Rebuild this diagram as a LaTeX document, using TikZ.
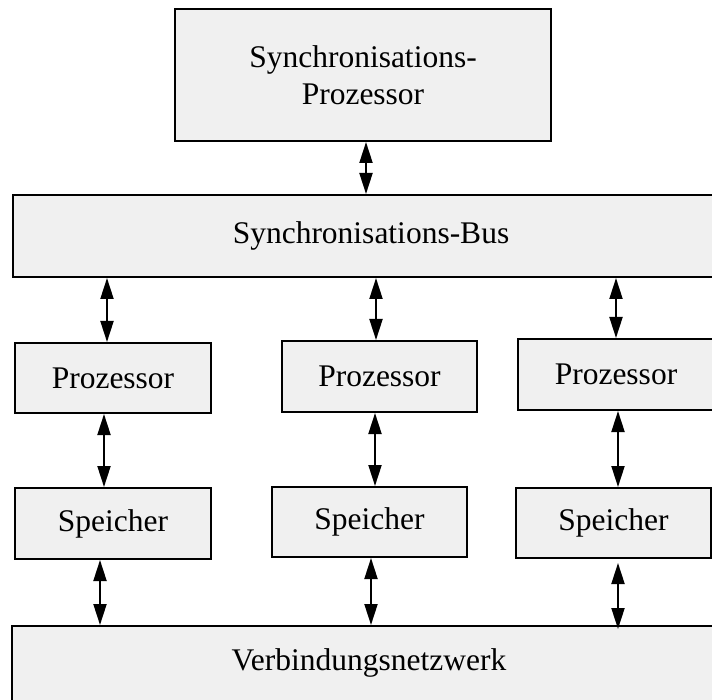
\documentclass[tikz,border=0pt]{standalone}
\usepackage{fontspec}
\setmainfont{Liberation Serif}
\usetikzlibrary{arrows.meta}
\definecolor{boxfill}{RGB}{240,240,240}
\tikzset{
  unit/.style={draw=black, fill=boxfill, line width=2pt, inner sep=0pt,
    font=\fontsize{31.5}{37}\selectfont, align=center},
  link/.style={line width=2pt, {Triangle[length=21pt,width=13pt]}-{Triangle[length=21pt,width=13pt]}}
}
\begin{document}
\begin{tikzpicture}[x=1pt,y=-1pt]
  \useasboundingbox (0,0) rectangle (712,700);
  \clip (0,0) rectangle (712,700);

  % top level: synchronisation processor and bus
  \node[unit, minimum width=376pt, minimum height=132pt] (sp) at (363,75) {Synchronisations-\\Prozessor};
  \node[unit, minimum width=716pt, minimum height=82pt] (bus) at (371,236) {Synchronisations-Bus};

  % processors
  \node[unit, minimum width=196pt, minimum height=70pt] (pL) at (113,378) {Prozessor};
  \node[unit, minimum width=195pt, minimum height=71pt] (pM) at (379.5,376.5) {Prozessor};
  \node[unit, minimum width=196pt, minimum height=71pt] (pR) at (616,374.5) {Prozessor};

  % memories
  \node[unit, minimum width=196pt, minimum height=71pt] (mL) at (113,523.5) {Speicher};
  \node[unit, minimum width=195pt, minimum height=70pt] (mM) at (369.5,522) {Speicher};
  \node[unit, minimum width=195pt, minimum height=70pt] (mR) at (613.5,523) {Speicher};

  % interconnection network
  \node[unit, minimum width=714pt, minimum height=100pt] (net) at (369,676) {};
  \node[font=\fontsize{31.5}{37}\selectfont, inner sep=0pt] (netlabel) at (369,663) {Verbindungsnetzwerk};

  % connector columns
  \coordinate (c0) at (366,0);
  \coordinate (a1) at (107,0);
  \coordinate (a2) at (376,0);
  \coordinate (a3) at (616,0);
  \coordinate (b1) at (104,0);
  \coordinate (b2) at (375,0);
  \coordinate (b3) at (618,0);
  \coordinate (d1) at (100,0);
  \coordinate (d2) at (371,0);
  \coordinate (d3) at (618,0);

  \draw[link] (sp.south -| c0) -- (bus.north -| c0);

  \draw[link] (bus.south -| a1) -- (pL.north -| a1);
  \draw[link] (bus.south -| a2) -- (pM.north -| a2);
  \draw[link] (bus.south -| a3) -- (pR.north -| a3);

  \draw[link] (pL.south -| b1) -- (mL.north -| b1);
  \draw[link] (pM.south -| b2) -- (mM.north -| b2);
  \draw[link] (pR.south -| b3) -- (mR.north -| b3);

  \draw[link] (mL.south -| d1) -- (net.north -| d1);
  \draw[link] (mM.south -| d2) -- (net.north -| d2);
  \draw[link] ([yshift=-4pt]mR.south -| d3) -- ([yshift=-4pt]net.north -| d3);
\end{tikzpicture}
\end{document}
